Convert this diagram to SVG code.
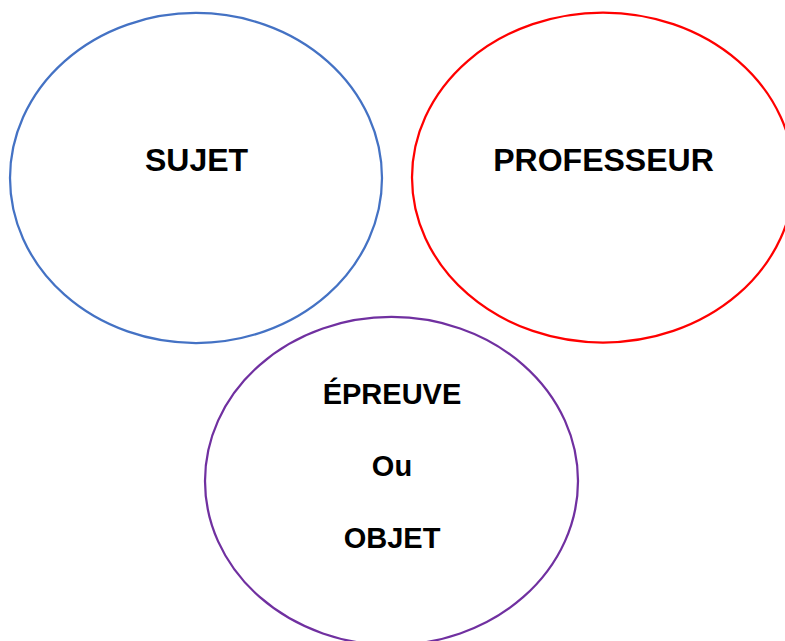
<svg xmlns="http://www.w3.org/2000/svg" width="785" height="641" viewBox="0 0 785 641">
<style>
.n{fill:none;stroke-width:2.25}
.t{font-family:"Liberation Sans",Arial,sans-serif;font-weight:bold;font-size:32px;fill:#000;text-anchor:middle}
.s{font-size:29px}
</style>
<rect width="785" height="641" fill="#fff"/>
<g id="connectors"></g>
<g id="sujet">
<ellipse class="n" cx="196" cy="178" rx="186" ry="165" stroke="#4472C4"/>
<text class="t" x="196.5" y="171">SUJET</text>
</g>
<g id="professeur">
<ellipse class="n" cx="603" cy="177.5" rx="191" ry="165" stroke="#FF0000"/>
<text class="t" x="603.5" y="171">PROFESSEUR</text>
</g>
<g id="epreuve">
<ellipse class="n" cx="391.5" cy="481" rx="186.5" ry="164" stroke="#7030A0"/>
<text class="t s" x="392" y="404">ÉPREUVE</text>
<text class="t s" x="392" y="476">Ou</text>
<text class="t s" x="392" y="548">OBJET</text>
</g>
</svg>
